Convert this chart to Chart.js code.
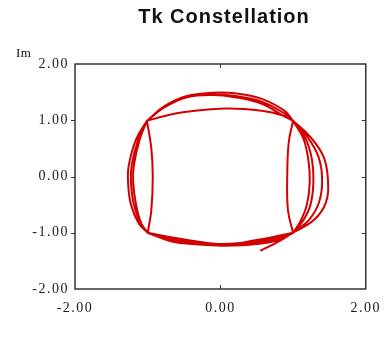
<!DOCTYPE html>
<html>
<head>
<meta charset="utf-8">
<script src="https://cdn.jsdelivr.net/npm/chart.js@4/dist/chart.umd.min.js"></script>
<style>
    html, body { margin: 0; padding: 0; background: #fff; }
    canvas { display: block; }
</style>
</head>
<body>
<canvas id="tk-chart" width="389" height="353"></canvas>
<script>
const chartTitle = 'Tk Constellation';
const imLabel = 'Im';

const xTicks = [-2, 0, 2];
const yTicks = [-2, -1, 0, 1, 2];

// trajectory, one row per swing; every row starts and ends on a corner symbol
const reValues = [
    0.55, 0.78, 1.0,
    1.0, 1.29, 1.45, 1.48, 1.42, 1.24, 1.0,
    1.0, 0.88, 0.57, 0.2, -0.1, -0.46, -0.77, -1.01,
    -1.01, -1.16, -1.26, -1.27, -1.23, -1.12, -1.0,
    -1.0, -0.68, -0.3, 0.05, 0.5, 0.82, 1.0,
    1.0, 1.22, 1.36, 1.40, 1.35, 1.2, 1.0,
    1.0, 0.94, 0.92, 0.93, 1.0,
    1.0, 0.82, 0.5, 0.05, -0.3, -0.7, -1.0,
    -1.0, -0.95, -0.93, -0.95, -1.01,
    -1.01, -0.75, -0.46, 0.08, 0.57, 0.85, 1.0,
    1.0, 1.17, 1.26, 1.28, 1.24, 1.14, 1.0,
    1.0, 0.82, 0.5, 0.05, -0.3, -0.68, -1.0,
    -1.0, -1.10, -1.19, -1.23, -1.22, -1.13, -1.01,
    -1.01, -0.77, -0.46, -0.1, 0.2, 0.57, 0.88, 1.0,
    1.0, 1.14, 1.21, 1.23, 1.19, 1.10, 1.0,
    1.0, 0.82, 0.5, 0.05, -0.3, -0.7, -1.0,
    -1.0, -1.09, -1.16, -1.20, -1.19, -1.11, -1.01,
    -1.01, -0.77, -0.46, -0.1, 0.2, 0.57, 0.88, 1.0,
];

const imValues = [
    -1.32, -1.17, -1.0,
    -1.0, -0.77, -0.47, -0.06, 0.35, 0.70, 0.99,
    0.99, 1.17, 1.38, 1.48, 1.49, 1.43, 1.25, 0.99,
    0.99, 0.66, 0.2, -0.1, -0.5, -0.84, -1.0,
    -1.0, -1.15, -1.21, -1.23, -1.20, -1.12, -1.0,
    -1.0, -0.77, -0.45, -0.05, 0.35, 0.7, 0.99,
    0.99, 0.6, 0.0, -0.6, -1.0,
    -1.0, -1.09, -1.17, -1.21, -1.18, -1.11, -1.0,
    -1.0, -0.6, 0.0, 0.5, 0.99,
    0.99, 1.08, 1.15, 1.21, 1.17, 1.09, 0.99,
    0.99, 0.68, 0.3, -0.1, -0.5, -0.78, -1.0,
    -1.0, -1.07, -1.15, -1.20, -1.16, -1.08, -1.0,
    -1.0, -0.83, -0.5, -0.1, 0.2, 0.66, 0.99,
    0.99, 1.24, 1.42, 1.46, 1.43, 1.33, 1.12, 0.99,
    0.99, 0.68, 0.3, -0.1, -0.5, -0.8, -1.0,
    -1.0, -1.05, -1.13, -1.22, -1.18, -1.10, -1.0,
    -1.0, -0.83, -0.5, -0.1, 0.2, 0.66, 0.99,
    0.99, 1.23, 1.41, 1.45, 1.41, 1.29, 1.07, 0.99,
];

const points = reValues.map((x, i) => ({ x, y: imValues[i] }));

const tickFont = { family: "'Liberation Serif', 'Times New Roman', serif", size: 14 };

// frame, tick marks, title and the Im label
const framePlugin = {
    id: 'frame',
    beforeDraw(chart) {
        chart.ctx.letterSpacing = '1.5px';
    },
    afterDraw(chart) {
        const { ctx, chartArea: a, scales } = chart;
        ctx.save();
        ctx.strokeStyle = '#333';
        ctx.lineWidth = 1.5;
        ctx.strokeRect(a.left, a.top, a.right - a.left, a.bottom - a.top);

        ctx.lineWidth = 1;
        ctx.beginPath();
        [-1, 0, 1].forEach(v => {
            const y = Math.round(scales.y.getPixelForValue(v)) + 0.5;
            ctx.moveTo(a.left - 4, y);
            ctx.lineTo(a.left, y);
            ctx.moveTo(a.right - 4, y);
            ctx.lineTo(a.right, y);
        });
        const x0 = Math.round(scales.x.getPixelForValue(0)) + 0.5;
        ctx.moveTo(x0, a.top);
        ctx.lineTo(x0, a.top + 4);
        ctx.moveTo(x0, a.bottom);
        ctx.lineTo(x0, a.bottom - 4);
        ctx.stroke();

        ctx.fillStyle = '#111';
        ctx.letterSpacing = '1px';
        ctx.font = "bold 20px 'Liberation Sans', Arial, sans-serif";
        ctx.textAlign = 'center';
        ctx.textBaseline = 'alphabetic';
        ctx.fillText(chartTitle, 224, 23);

        ctx.letterSpacing = '0.5px';
        ctx.font = "13px 'Liberation Serif', 'Times New Roman', serif";
        ctx.textAlign = 'left';
        ctx.fillText(imLabel, 16, 57);
        ctx.restore();
    },
};

new Chart(document.getElementById('tk-chart'), {
    type: 'scatter',
    data: {
        datasets: [{
            data: points,
            showLine: true,
            borderColor: '#d20000',
            borderWidth: 2,
            pointRadius: 0,
            tension: 0.4,
        }],
    },
    options: {
        responsive: false,
        animation: false,
        layout: {
            padding: { top: 64, right: 16, left: 0, bottom: 0 },
        },
        plugins: {
            legend: { display: false },
            tooltip: { enabled: false },
        },
        scales: {
            x: {
                min: -2,
                max: 2,
                afterBuildTicks: scale => {
                    scale.ticks = xTicks.map(value => ({ value }));
                },
                afterFit: scale => {
                    scale.height = 64;
                },
                grid: { display: false, drawTicks: false },
                border: { display: false },
                ticks: {
                    autoSkip: false,
                    maxRotation: 0,
                    padding: 11,
                    color: '#1a1a1a',
                    font: tickFont,
                    callback: v => v.toFixed(2),
                },
            },
            y: {
                min: -2,
                max: 2,
                afterBuildTicks: scale => {
                    scale.ticks = yTicks.map(value => ({ value }));
                },
                afterFit: scale => {
                    scale.width = 75;
                },
                grid: { display: false, drawTicks: false },
                border: { display: false },
                ticks: {
                    autoSkip: false,
                    padding: 6,
                    color: '#1a1a1a',
                    font: tickFont,
                    callback: v => v.toFixed(2),
                },
            },
        },
    },
    plugins: [framePlugin],
});
</script>
</body>
</html>
